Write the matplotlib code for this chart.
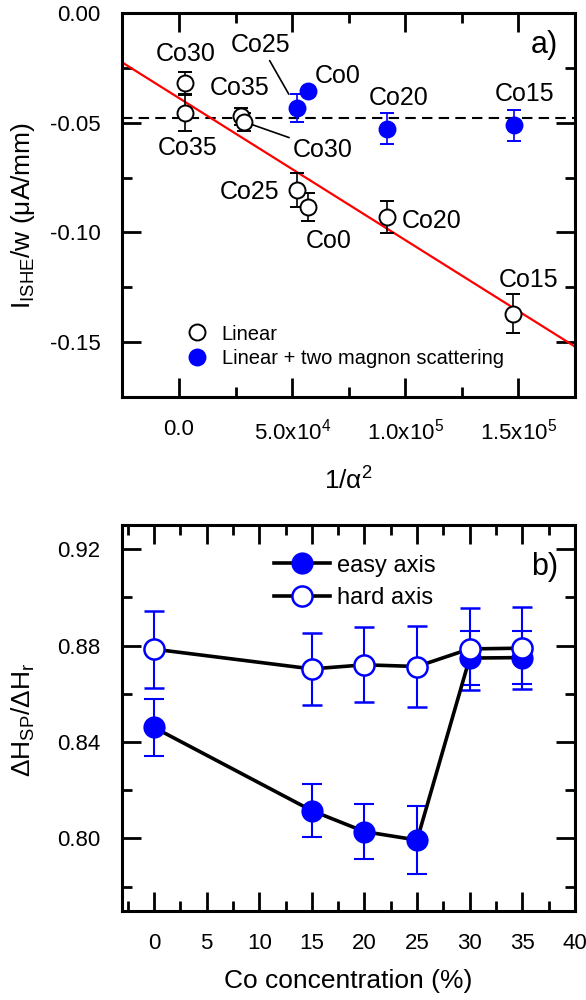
import matplotlib
matplotlib.use('Agg')
import matplotlib.pyplot as plt
from matplotlib.ticker import MultipleLocator, FixedLocator, FixedFormatter
from matplotlib.lines import Line2D
import numpy as np

plt.rcParams['font.family'] = ['Liberation Sans', 'DejaVu Sans']
plt.rcParams['mathtext.fontset'] = 'custom'
plt.rcParams['mathtext.rm'] = 'Liberation Sans'
plt.rcParams['mathtext.it'] = 'Liberation Sans:italic'

# ---- panel a data: I_ISHE/w vs 1/alpha^2
lin_x = [2.5e3, 2.5e3, 2.75e4, 2.87e4, 5.2e4, 5.7e4, 9.2e4, 1.478e5]
lin_y = [-0.0318, -0.0455, -0.0470, -0.0495, -0.0807, -0.0883, -0.0929, -0.1371]
lin_err = [0.005, 0.008, 0.004, 0.004, 0.0078, 0.0063, 0.0072, 0.009]
lin_names = ['Co30', 'Co35', 'Co35', 'Co30', 'Co25', 'Co0', 'Co20', 'Co15']

tms_x = [5.2e4, 5.7e4, 9.2e4, 1.483e5]
tms_y = [-0.0432, -0.0356, -0.0527, -0.0512]
tms_err = [0.0062, 0.0, 0.007, 0.007]
tms_names = ['Co25', 'Co0', 'Co20', 'Co15']

fit_intercept = -0.0387
fit_slope = -6.48e-7
ref_level = -0.048

xa_ticks = [0, 5e4, 1e5, 1.5e5]
xa_labels = ['0.0', '5.0x10$^{4}$', '1.0x10$^{5}$', '1.5x10$^{5}$']

# ---- panel b data: dH_SP/dH_r vs Co concentration
co = [0, 15, 20, 25, 30, 35]
easy = [0.846, 0.8115, 0.8028, 0.7993, 0.8748, 0.8750]
easy_err = [0.012, 0.011, 0.0114, 0.014, 0.0112, 0.011]
hard = [0.8785, 0.8703, 0.8720, 0.8713, 0.8786, 0.8789]
hard_err = [0.016, 0.015, 0.0155, 0.0167, 0.017, 0.017]

# label placement (offset points) -- layout only
lin_offs = [(0.6, 21), (2, -25), (-1, 20), (57, -20), (-34, -1.7), (15, -24.5), (32, -3), (11, 24.5)]
lin_lead = [False, False, False, True, False, False, False, False]
tms_offs = [(-26, 45.6), (21.6, 10.8), (8, 22.3), (7.3, 22.7)]
tms_lead = [True, False, False, False]

fig = plt.figure(figsize=(5.86, 10), dpi=100)
ax1 = fig.add_axes([0.209, 0.6033, 0.772, 0.3834])
ax2 = fig.add_axes([0.209, 0.0893, 0.772, 0.3857])


def style_axes(ax):
    for s in ax.spines.values():
        s.set_linewidth(2.2)
    ax.tick_params(which='both', direction='in', top=True, right=True, width=2.0, labelsize=16)
    ax.tick_params(which='major', length=14)
    ax.tick_params(which='minor', length=7.5)
    ax.tick_params(axis='x', pad=16)
    ax.tick_params(axis='y', pad=16)


# panel a
ax1.set_xlim(-2.5e4, 1.75e5)
ax1.set_ylim(-0.175, 0.0)
ax1.axhline(ref_level, color='k', lw=1.5, ls=(0, (5, 3)), zorder=1)
xf = np.array(ax1.get_xlim())
ax1.plot(xf, fit_intercept + fit_slope * xf, color='red', lw=1.6, zorder=2)

ax1.errorbar(lin_x, lin_y, yerr=lin_err, fmt='o', ms=11.5, mfc='white', mec='k', mew=1.4,
             ecolor='k', elinewidth=1.2, capsize=4.7, capthick=1.2, zorder=3)
ax1.errorbar(tms_x, tms_y, yerr=tms_err, fmt='o', ms=11.5, mfc='blue', mec='blue', mew=1.4,
             ecolor='blue', elinewidth=1.2, capsize=4.7, capthick=1.2, zorder=4)

for xs, ys, names, offs, leads, sh in [(lin_x, lin_y, lin_names, lin_offs, lin_lead, 6),
                                        (tms_x, tms_y, tms_names, tms_offs, tms_lead, 11.4)]:
    for x, y, n, o, lead in zip(xs, ys, names, offs, leads):
        ap = dict(arrowstyle='-', color='k', lw=1.2, shrinkA=1, shrinkB=sh) if lead else None
        ax1.annotate(n, (x, y), xytext=o, textcoords='offset points', ha='center', va='center',
                     fontsize=18, arrowprops=ap, zorder=5)

ax1.xaxis.set_major_locator(FixedLocator(xa_ticks))
ax1.xaxis.set_major_formatter(FixedFormatter(xa_labels))
ax1.xaxis.set_minor_locator(MultipleLocator(2.5e4))
ax1.yaxis.set_major_locator(MultipleLocator(0.05))
ax1.yaxis.set_minor_locator(MultipleLocator(0.025))
ax1.yaxis.set_major_formatter(plt.FuncFormatter(lambda v, p: '%.2f' % v))
style_axes(ax1)
ax1.set_xlabel('1/α$^{2}$', fontsize=19)
ax1.set_ylabel('I$_{\\mathrm{ISHE}}$/w (μA/mm)', fontsize=19)
ax1.xaxis.set_label_coords(0.5, -0.185)
ax1.yaxis.set_label_coords(-0.19, 0.474)
ax1.text(0.933, 0.917, 'a)', transform=ax1.transAxes, fontsize=22, ha='center', va='center')
ha_ = [Line2D([], [], ls='none', marker='o', ms=11.5, mfc='white', mec='k', mew=1.4),
       Line2D([], [], ls='none', marker='o', ms=11.5, mfc='blue', mec='blue', mew=1.4)]
ax1.legend(ha_, ['Linear', 'Linear + two magnon scattering'], loc='lower left',
           bbox_to_anchor=(0.125, 0.055), frameon=False, fontsize=14.5,
           handlelength=1.0, handletextpad=0.72, labelspacing=0.25, borderaxespad=0)

# panel b
ax2.set_xlim(-3, 40)
ax2.set_ylim(0.77, 0.93)
ax2.errorbar(co, easy, yerr=easy_err, fmt='-o', color='k', lw=2.6, ms=14.5, mfc='blue', mec='blue',
             mew=1.5, ecolor='blue', elinewidth=1.5, capsize=7, capthick=1.5)
ax2.errorbar(co, hard, yerr=hard_err, fmt='-o', color='k', lw=2.6, ms=14.5, mfc='white', mec='blue',
             mew=1.8, ecolor='blue', elinewidth=1.5, capsize=7, capthick=1.5)
ax2.xaxis.set_major_locator(MultipleLocator(5))
ax2.xaxis.set_minor_locator(MultipleLocator(2.5))
ax2.yaxis.set_major_locator(MultipleLocator(0.04))
ax2.yaxis.set_minor_locator(MultipleLocator(0.02))
ax2.yaxis.set_major_formatter(plt.FuncFormatter(lambda v, p: '%.2f' % v))
style_axes(ax2)
ax2.set_xlabel('Co concentration (%)', fontsize=19)
ax2.set_ylabel('ΔH$_{\\mathrm{SP}}$/ΔH$_{\\mathrm{r}}$', fontsize=19)
ax2.xaxis.set_label_coords(0.5, -0.152)
ax2.yaxis.set_label_coords(-0.19, 0.494)
ax2.text(0.933, 0.892, 'b)', transform=ax2.transAxes, fontsize=22, ha='center', va='center')
hb_ = [Line2D([], [], color='k', lw=2.6, marker='o', ms=14.5, mfc='blue', mec='blue', mew=1.5),
       Line2D([], [], color='k', lw=2.6, marker='o', ms=14.5, mfc='white', mec='blue', mew=1.8)]
ax2.legend(hb_, ['easy axis', 'hard axis'], loc='upper left', bbox_to_anchor=(0.313, 0.948),
           frameon=False, fontsize=17, handlelength=2.4, handletextpad=0.3, labelspacing=0.45,
           borderaxespad=0)

fig.savefig('out.png', dpi=100)
